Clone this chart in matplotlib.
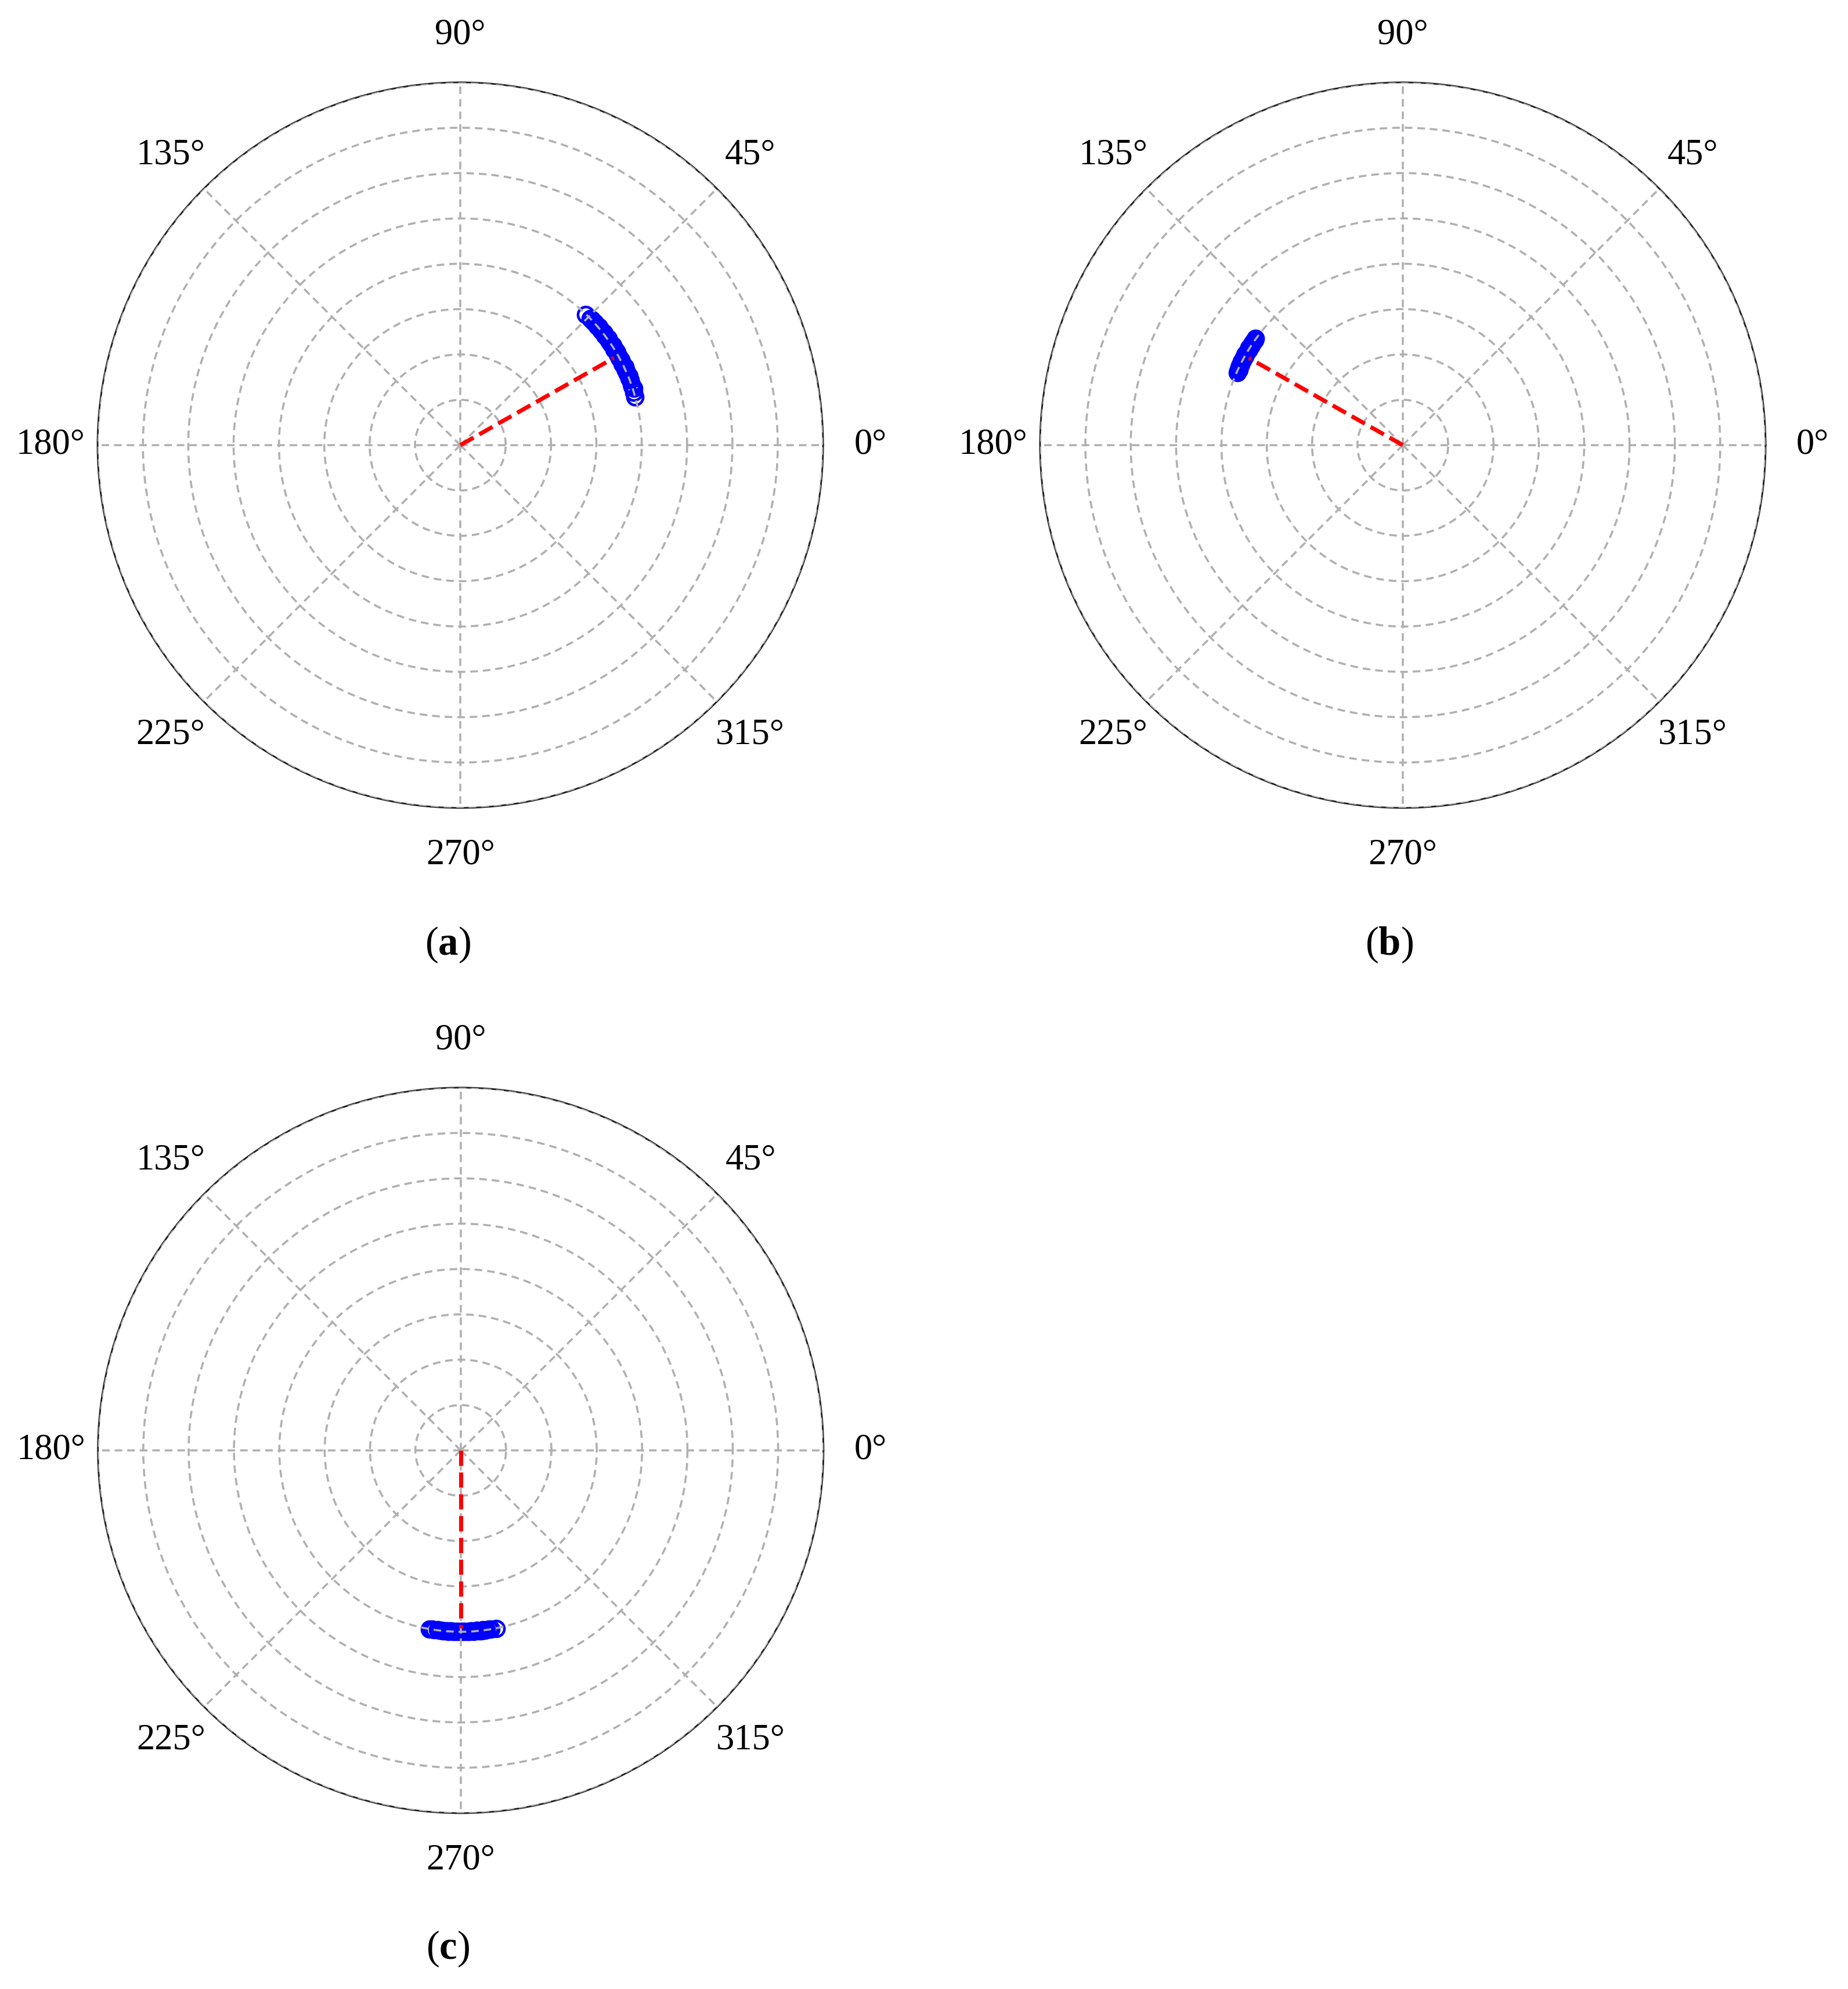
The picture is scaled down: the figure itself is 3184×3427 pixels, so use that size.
import numpy as np
import matplotlib.pyplot as plt

plt.rcParams['font.family'] = 'Liberation Serif'
plt.rcParams['mathtext.fontset'] = 'custom'
plt.rcParams['mathtext.rm'] = 'Liberation Serif'
plt.rcParams['mathtext.bf'] = 'Liberation Serif:bold'

# ---- data (angles in degrees, radius in grid units) ----
theta_a = [46.2, 44.3, 43.6, 43.0, 42.3, 41.7, 41.0, 40.4, 39.7, 39.1, 38.4, 37.8,
           37.1, 36.5, 35.8, 35.2, 34.5, 33.9, 33.2, 32.6, 31.9, 31.3, 30.6, 30.0,
           29.3, 28.7, 28.0, 27.4, 26.7, 26.1, 25.4, 24.8, 24.1, 23.5, 22.8, 22.2,
           21.5, 20.9, 19.6, 18.9, 18.1, 17.0, 15.4]
r_a = [3.99, 4.00, 4.01, 4.00, 4.02, 4.01, 4.00, 4.02, 4.01, 4.00, 4.01, 4.02,
       4.00, 4.01, 4.02, 4.00, 4.01, 4.00, 4.02, 4.01, 4.00, 4.01, 4.02, 4.00,
       4.01, 4.00, 4.02, 4.01, 4.00, 4.01, 4.02, 4.00, 4.01, 4.00, 4.01, 4.02,
       4.00, 4.01, 4.01, 4.00, 4.02, 4.00, 4.00]
mean_a = (29.6, 3.89)

theta_b = [144.1, 144.6, 145.1, 145.6, 146.1, 146.6, 147.1, 147.6, 148.1, 148.6,
           149.1, 149.6, 150.1, 150.6, 151.1, 151.6, 152.1, 152.6, 153.1, 153.6,
           154.1, 154.6, 155.2, 155.7, 156.3]
r_b = [4.01, 4.00, 4.01, 4.00, 4.01, 4.00, 4.00, 4.01, 4.00, 4.01,
       4.00, 4.00, 4.01, 4.00, 4.01, 4.00, 4.00, 4.01, 4.00, 3.99,
       4.00, 3.99, 3.98, 3.99, 3.98]
mean_b = (150.5, 3.90)

theta_c = [260.1, 260.8, 261.5, 262.6, 263.2, 263.8, 264.4, 265.0, 265.6, 266.2,
           266.8, 267.4, 268.0, 268.6, 269.2, 269.8, 270.4, 271.0, 271.6, 272.2,
           272.8, 273.4, 274.0, 274.6, 275.2, 275.8, 276.4, 277.0, 277.6, 278.2,
           279.0, 279.6, 281.2]
r_c = [4.00, 3.99, 4.00, 3.99, 4.00, 3.99, 4.00, 4.00, 3.99, 4.00,
       3.99, 4.00, 4.00, 3.99, 4.00, 3.99, 4.00, 4.00, 3.99, 4.00,
       4.00, 3.99, 4.00, 4.00, 3.99, 4.00, 4.00, 3.99, 4.00, 4.00,
       3.99, 4.00, 4.01]
mean_c = (270.0, 3.92)

panel_labels = ['a', 'b', 'c']
tick_angles = [0, 45, 90, 135, 180, 225, 270, 315]
tick_labels = ['0°', '45°', '90°', '135°', '180°', '225°', '270°', '315°']

fig = plt.figure(figsize=(3184 / 300, 3427 / 300), dpi=300)

# axes boxes (figure fractions) and caption positions
boxes = [[0.0528, 0.5938, 0.3926, 0.3648],
         [0.5628, 0.5938, 0.3926, 0.3648],
         [0.0530, 0.0884, 0.3926, 0.3648]]
caption_xy = [(0.2422, 0.525), (0.7516, 0.525), (0.2422, 0.020)]

datasets = [(theta_a, r_a, mean_a), (theta_b, r_b, mean_b), (theta_c, r_c, mean_c)]

for box, (th, rr, mv), lab, cxy in zip(boxes, datasets, panel_labels, caption_xy):
    ax = fig.add_axes(box, projection='polar')
    ax.set_axisbelow(False)
    ax.plot(np.deg2rad(th), rr, 'o', mfc='none', mec='blue', ms=6.5, mew=1.1, zorder=2)
    ax.plot([0, np.deg2rad(mv[0])], [0, mv[1]], '--', color='red', lw=1.7, zorder=3)
    ax.set_ylim(0, 8)
    ax.set_yticks(range(1, 9))
    ax.set_yticklabels([])
    ax.set_thetagrids(tick_angles, tick_labels, fontsize=15)
    ax.tick_params(axis='x', pad=9)
    ax.grid(True, linestyle=(0, (3.7, 2.4)), color='#b0b0b0', linewidth=0.85)
    ax.spines['polar'].set_color('#222222')
    ax.spines['polar'].set_linewidth(0.7)
    fig.text(cxy[0], cxy[1], '($\\mathbf{' + lab + '}$)', fontsize=16.5,
             ha='center', va='center')

fig.savefig('out.png', dpi=300)
